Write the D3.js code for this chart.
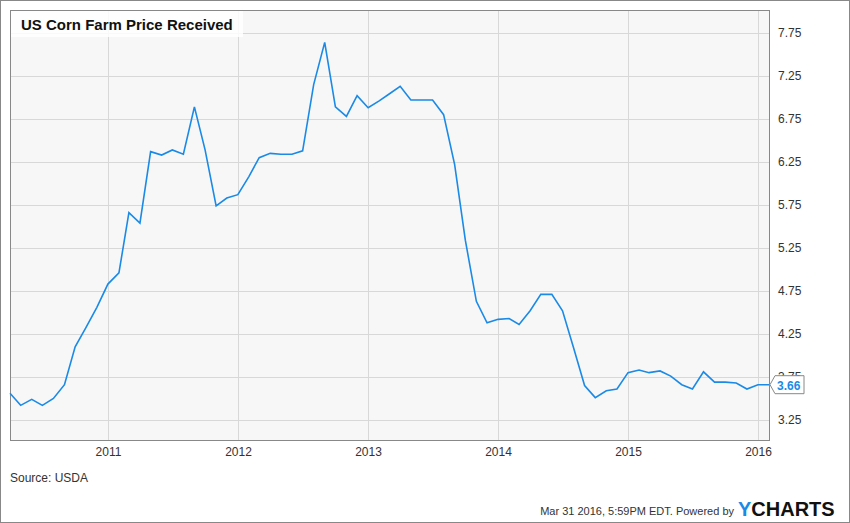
<!DOCTYPE html>
<html><head><meta charset="utf-8">
<script src="https://cdn.jsdelivr.net/npm/d3@7"></script>
<style>body{margin:0;background:#fff}svg{font-family:"Liberation Sans",Arial,sans-serif}</style>
</head><body><svg width="850" height="523"></svg>
<script>
var startMonth = new Date(2010, 3, 1);
var prices = [3.56,3.42,3.49,3.42,3.50,3.66,4.10,4.33,4.56,
  4.83,4.96,5.66,5.54,6.37,6.33,6.39,6.34,6.89,6.39,5.74,5.83,
  5.87,6.08,6.30,6.35,6.34,6.34,6.38,7.15,7.64,6.89,6.78,7.02,
  6.88,6.96,7.04,7.13,6.97,6.97,6.97,6.80,6.22,5.34,4.63,4.38,
  4.42,4.43,4.36,4.52,4.71,4.71,4.52,4.09,3.65,3.51,3.59,3.61,
  3.80,3.83,3.80,3.82,3.76,3.66,3.61,3.81,3.69,3.69,3.68,3.61,
  3.66,3.66];
var yTicks = [3.25,3.75,4.25,4.75,5.25,5.75,6.25,6.75,7.25,7.75];
var xYears = [2011,2012,2013,2014,2015,2016];

var data = prices.map(function (v, i) {
	return {date: d3.timeMonth.offset(startMonth, i), value: v};
});

var svg = d3.select('svg');
var pLeft = 10, pRight = 769, pTop = 10, pBottom = 440;

svg.append('rect').attr('x', 0.5).attr('y', 0.5).attr('width', 849).attr('height', 522)
	.attr('fill', '#fff').attr('stroke', '#888');

var x = d3.scaleTime().domain([startMonth, data[data.length - 1].date]).range([pLeft, pRight]);
var y = d3.scaleLinear().domain([3.017, 8.017]).range([pBottom, pTop]);

svg.append('rect').attr('x', pLeft + 0.5).attr('y', pTop + 0.5)
	.attr('width', pRight - pLeft).attr('height', pBottom - pTop)
	.attr('fill', '#f7f7f7').attr('stroke', '#888');

var grid = svg.append('g');
yTicks.forEach(function (t) {
	grid.append('line').attr('x1', pLeft + 1).attr('x2', pRight)
		.attr('y1', Math.round(y(t)) + 0.5).attr('y2', Math.round(y(t)) + 0.5)
		.attr('stroke', '#d8d8d8');
	svg.append('text').attr('x', pRight + 9).attr('y', y(t) + 4)
		.attr('font-size', 12).attr('fill', '#333').text(t.toFixed(2));
});
xYears.forEach(function (yr) {
	var px = Math.round(x(new Date(yr, 0, 1))) + 0.5;
	grid.append('line').attr('x1', px).attr('x2', px).attr('y1', pTop + 1).attr('y2', pBottom)
		.attr('stroke', '#d8d8d8');
	svg.append('text').attr('x', px).attr('y', pBottom + 16).attr('text-anchor', 'middle')
		.attr('font-size', 12).attr('fill', '#333').text(yr);
});

var line = d3.line().x(function (d) { return x(d.date); }).y(function (d) { return y(d.value); });
svg.append('path').datum(data).attr('d', line).attr('fill', 'none')
	.attr('stroke', '#1a8ae6').attr('stroke-width', 1.6);

svg.append('rect').attr('x', pLeft + 1).attr('y', pTop + 1).attr('width', 232).attr('height', 26)
	.attr('fill', '#fff').attr('opacity', 0.85);
svg.append('text').attr('x', 21).attr('y', 30).attr('font-size', 15).attr('font-weight', 'bold')
	.attr('fill', '#111').text('US Corn Farm Price Received');

var last = data[data.length - 1];
var ly = y(last.value);
svg.append('path')
	.attr('d', 'M' + (pRight + 1) + ',' + ly + 'L' + (pRight + 6) + ',' + (ly - 9) + 'H' + 804 +
		'V' + (ly + 9) + 'H' + (pRight + 6) + 'Z')
	.attr('fill', '#fff').attr('stroke', '#888');
svg.append('text').attr('x', pRight + 8).attr('y', ly + 5).attr('font-size', 12)
	.attr('font-weight', 'bold').attr('fill', '#1a8ae6').text(last.value.toFixed(2));

svg.append('text').attr('x', 10).attr('y', 482).attr('font-size', 12).attr('fill', '#333').text('Source: USDA');
svg.append('text').attr('x', 734).attr('y', 515).attr('text-anchor', 'end').attr('font-size', 11)
	.attr('fill', '#333').text('Mar 31 2016, 5:59PM EDT.  Powered by');
var yc = svg.append('text').attr('x', 738).attr('y', 516).attr('font-size', 20)
	.attr('font-weight', 'bold').attr('fill', '#111');
yc.append('tspan').attr('fill', '#1a8ae6').text('Y');
yc.append('tspan').text('CHARTS');
</script></body></html>
